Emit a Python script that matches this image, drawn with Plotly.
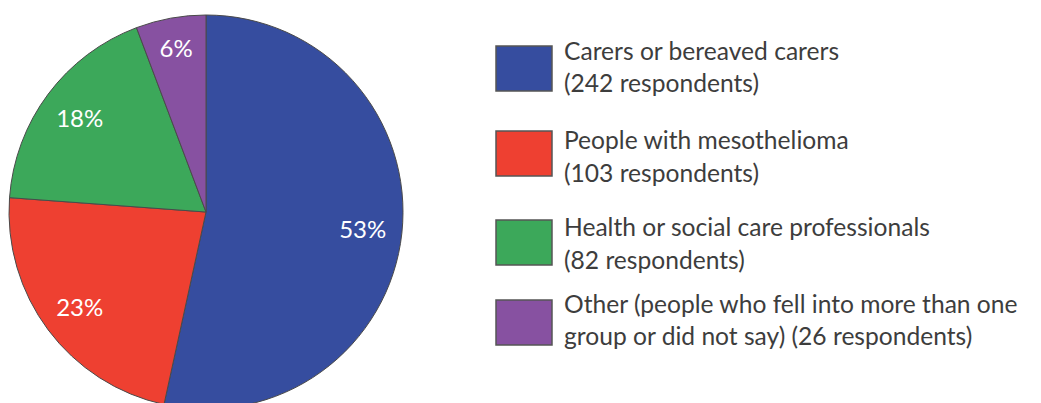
import plotly.graph_objects as go

categories = ["Carers or bereaved carers", "People with mesothelioma",
              "Health or social care professionals",
              "Other (people who fell into more than one group or did not say)"]
legend_line1 = ["Carers or bereaved carers", "People with mesothelioma",
                "Health or social care professionals",
                "Other (people who fell into more than one"]
legend_line2 = ["(242 respondents)", "(103 respondents)", "(82 respondents)",
                "group or did not say) (26 respondents)"]
respondents = [242, 103, 82, 26]
colors = ["#364D9F", "#EE4031", "#3CA85A", "#8751A1"]

W, H = 1025, 401
OFF = 8  # default page body margin
FONT = "Lato"
TXT = "#3d3d3d"

def px(x):
    return (x - OFF) / W

def py(y):
    return 1 - (y - OFF) / H

pie_domain = dict(x=[px(9), px(403)], y=[0, py(15)])

fig = go.Figure()
# slices
fig.add_trace(go.Pie(
    labels=categories, values=respondents, sort=False, direction="clockwise",
    rotation=0, marker=dict(colors=colors, line=dict(color="#4a4a4a", width=1)),
    textinfo="none", domain=pie_domain,
    showlegend=False, hoverinfo="label+value+percent",
))
# percentage labels placed in the outer ring of the same pie
fig.add_trace(go.Pie(
    labels=categories, values=respondents, sort=False, direction="clockwise",
    rotation=0, hole=0.6,
    marker=dict(colors=["rgba(0,0,0,0)"] * 4, line=dict(width=0)),
    textinfo="percent", texttemplate="%{percent:.0%}", textposition="inside",
    insidetextorientation="horizontal",
    textfont=dict(family=FONT, size=24, color="white"),
    domain=pie_domain, showlegend=False, hoverinfo="skip",
))

box_tops = [46, 131, 220, 300]
line1_base = [60, 150, 237, 313]
for i in range(4):
    t = box_tops[i]
    fig.add_shape(type="rect", xref="paper", yref="paper",
                  x0=px(496), x1=px(552), y0=py(t), y1=py(t + 45),
                  fillcolor=colors[i], line=dict(color="#555555", width=1.5))
    for txt, b in [(legend_line1[i], line1_base[i]),
                   (legend_line2[i], line1_base[i] + 32)]:
        fig.add_annotation(x=px(562), y=py(b - 10), xref="paper", yref="paper",
                           text=txt, showarrow=False, xanchor="left",
                           yanchor="middle",
                           font=dict(family=FONT, size=24.6, color=TXT))

fig.update_layout(width=W, height=H, margin=dict(l=0, r=0, t=0, b=0),
                  paper_bgcolor="white", plot_bgcolor="white")
fig.write_html("out.html")
